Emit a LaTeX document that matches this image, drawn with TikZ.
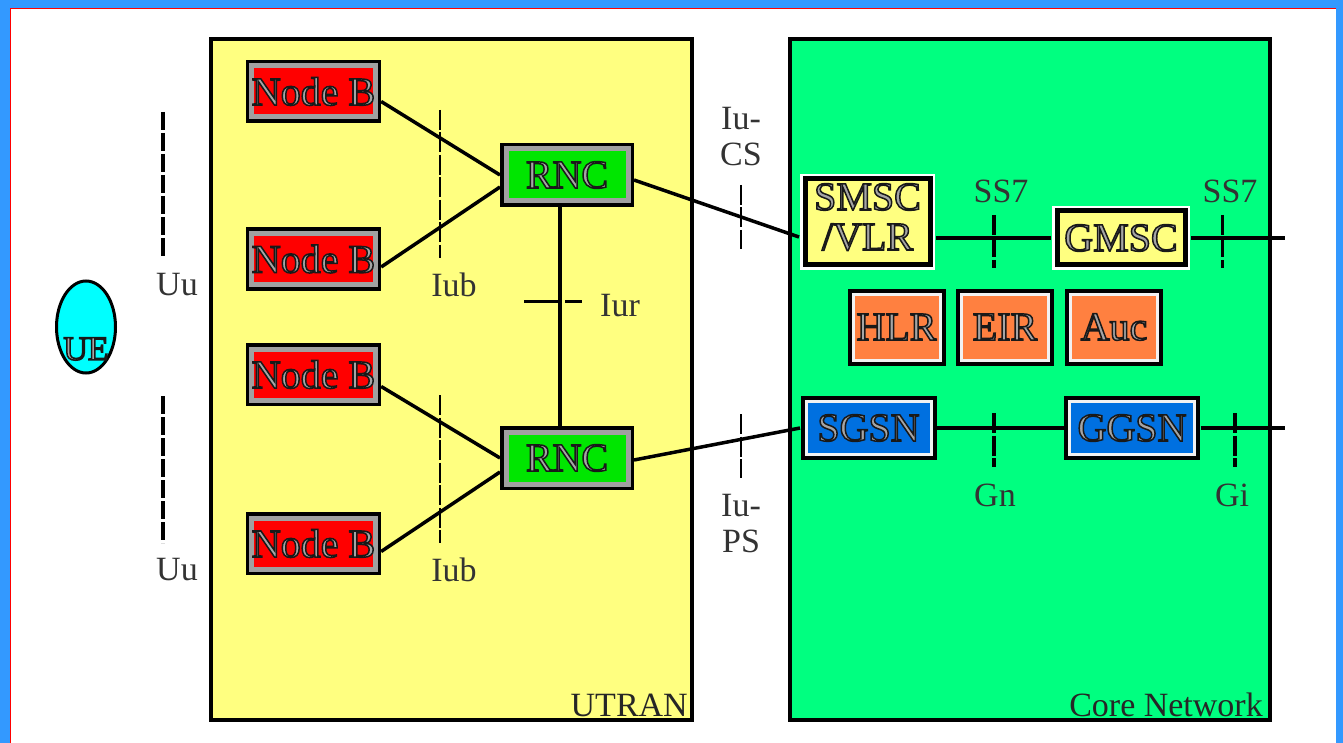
\documentclass[tikz,border=0pt]{standalone}
\usepackage{fontspec}
\setmainfont{Liberation Serif}
\usetikzlibrary{shapes.geometric}
\definecolor{frameblue}{RGB}{51,153,255}
\definecolor{utranyellow}{RGB}{255,255,128}
\definecolor{coregreen}{RGB}{0,255,128}
\definecolor{nbred}{RGB}{255,0,0}
\definecolor{rncgreen}{RGB}{0,230,0}
\definecolor{orangebox}{RGB}{255,128,64}
\definecolor{bluebox}{RGB}{0,112,224}
\definecolor{framegray}{RGB}{160,160,160}
\definecolor{ueblue}{RGB}{0,255,255}
\definecolor{embfill}{RGB}{165,165,165}
\newcommand{\emb}[1]{{\color{embfill}\special{pdf:literal q 0.1 0.1 0.1 RG 1.5 w 2 Tr}#1\special{pdf:literal Q}}}
\begin{document}
\begin{tikzpicture}[x=1pt,y=-1pt,
  box/.style={rectangle, inner sep=0pt, outer sep=6pt,
    font=\fontsize{40}{40}\selectfont},
  nbbox/.style={box, fill=nbred, draw=framegray, line width=5pt,
    preaction={draw=black, line width=12pt}, minimum width=123pt, minimum height=51pt},
  rncbox/.style={box, fill=rncgreen, draw=framegray, line width=5pt,
    preaction={draw=black, line width=12pt}, minimum width=122pt, minimum height=52pt},
  yelbox/.style={box, fill=utranyellow, draw=black, line width=5pt,
    preaction={draw=white, line width=10pt}},
  orbox/.style={box, fill=orangebox, draw=white!90!gray, line width=3pt,
    preaction={draw=black, line width=11pt}, minimum width=87pt, minimum height=66pt},
  blbox/.style={box, fill=bluebox, draw=white!90!gray, line width=3pt,
    preaction={draw=black, line width=11pt}, minimum width=125pt, minimum height=53pt},
  container/.style={draw=black, line width=4pt},
  conn/.style={draw=black, line width=3.5pt},
  tick/.style={draw=black, line width=2.5pt, dash pattern=on 20pt off 2.5pt},
  uutick/.style={draw=black, line width=4pt, dash pattern=on 18pt off 3pt},
  lbl/.style={inner sep=0pt, font=\fontsize{34}{36}\selectfont, text=black!80, align=center},
  boxlbl/.style={inner sep=0pt, font=\fontsize{34}{34}\selectfont, text=black!85}
]
\useasboundingbox (0,0) rectangle (1343,743);
% frame
\fill[frameblue] (0,0) rectangle (1343,743);
\fill[white] (10,8) rectangle (1336,743);
\draw[red, line width=0.8pt] (10.5,8.5) -- (10.5,743);
\draw[red, line width=0.8pt] (10.5,8.5) -- (1336,8.5);

% containers
\fill[utranyellow] (211,39) rectangle (692,720);
\draw[container] (211,39) rectangle (692,720);
\fill[coregreen] (790,39) rectangle (1270,720);
\draw[container] (790,39) rectangle (1270,720);
\node[boxlbl, anchor=base east] (utranlbl) at (688,716) {UTRAN};
\node[boxlbl, anchor=base east] (corelbl) at (1263,716) {Core Network};

% UE
\node[ellipse, draw=black, line width=3pt, fill=ueblue, minimum width=59pt, minimum height=92pt, inner sep=0pt] (ue) at (86,327) {};
\node[inner sep=0pt, font=\fontsize{34}{34}\selectfont] (uetxt) at (86,349) {\emb{UE}};

% Uu
\draw[uutick] (163,112) -- (163,258);
\draw[uutick] (163,396) -- (163,543);
\node[lbl] (uu1) at (177,285) {Uu};
\node[lbl] (uu2) at (177,570) {Uu};

% Node B and RNC
\node[nbbox] (nb1) at (313.5,91.5) {\emb{Node B}};
\node[nbbox] (nb2) at (313.5,259) {\emb{Node B}};
\node[nbbox] (nb3) at (313.5,374.5) {\emb{Node B}};
\node[nbbox] (nb4) at (313.5,543.5) {\emb{Node B}};
\node[rncbox] (rnc1) at (567,175) {\emb{RNC}};
\node[rncbox] (rnc2) at (567,458) {\emb{RNC}};

\draw[conn] ([yshift=-10pt]nb1.east) -- ([yshift=0pt]rnc1.west);
\draw[conn] ([yshift=-8pt]nb2.east) -- ([yshift=-12pt]rnc1.west);
\draw[conn] ([yshift=-12pt]nb3.east) -- ([yshift=0pt]rnc2.west);
\draw[conn] ([yshift=-8pt]nb4.east) -- ([yshift=-14pt]rnc2.west);
\draw[conn] ([xshift=-7pt]rnc1.south) -- ([xshift=-7pt]rnc2.north);

% Iub / Iur ticks
\draw[tick] (440,110) -- (440,258);
\draw[tick] (440,395) -- (440,543);
\node[lbl] (iub1) at (454,285) {Iub};
\node[lbl] (iub2) at (454,570) {Iub};
\draw[draw=black, line width=3pt, dash pattern=on 38pt off 3pt on 20pt off 2pt] (524,301) -- (582,301);
\node[lbl] (iur) at (620,306) {Iur};

% Core network nodes
\node[yelbox, minimum width=125pt, minimum height=86pt] (smsc) at (867.5,222)
  {\emb{\begin{tabular}{@{}c@{}}SMSC\\/VLR\end{tabular}}};
\node[yelbox, minimum width=128pt, minimum height=54pt] (gmsc) at (1121,238) {\emb{GMSC}};
\node[orbox] (hlr) at (896.5,327) {\emb{HLR}};
\node[orbox] (eir) at (1005,327) {\emb{EIR}};
\node[orbox] (auc) at (1114,327) {\emb{Auc}};
\node[blbox] (sgsn) at (868.5,428) {\emb{SGSN}};
\node[blbox] (ggsn) at (1132,428) {\emb{GGSN}};
\coordinate (csout) at (1285,238);
\coordinate (psout) at (1285,428);

% Iu connectors
\draw[conn] ([yshift=-5pt]rnc1.east) -- ([yshift=-15pt]smsc.west);
\draw[conn] ([yshift=-2pt]rnc2.east) -- (sgsn.west);
\draw[tick] (741,185) -- (741,249);
\draw[tick] (741,414) -- (741,478);
\node[lbl] (iucs) at (741,137) {Iu-\\CS};
\node[lbl] (iups) at (741,524) {Iu-\\PS};

% core links
\draw[conn] (smsc.east |- gmsc.west) -- (gmsc.west);
\draw[conn] (gmsc.east) -- (csout);
\draw[conn] (sgsn.east) -- (ggsn.west);
\draw[conn] (ggsn.east) -- (psout);
\draw[tick, line width=4pt] (994,215) -- (994,268);
\draw[tick, line width=3pt] (1222,215) -- (1222,268);
\draw[tick, line width=4pt] (994,413) -- (994,467);
\draw[tick, line width=4pt] (1235,413) -- (1235,467);
\node[lbl] (ss71) at (1001,191) {SS7};
\node[lbl] (ss72) at (1230,191) {SS7};
\node[lbl] (gn) at (995,495) {Gn};
\node[lbl] (gi) at (1232,495) {Gi};
\end{tikzpicture}
\end{document}
